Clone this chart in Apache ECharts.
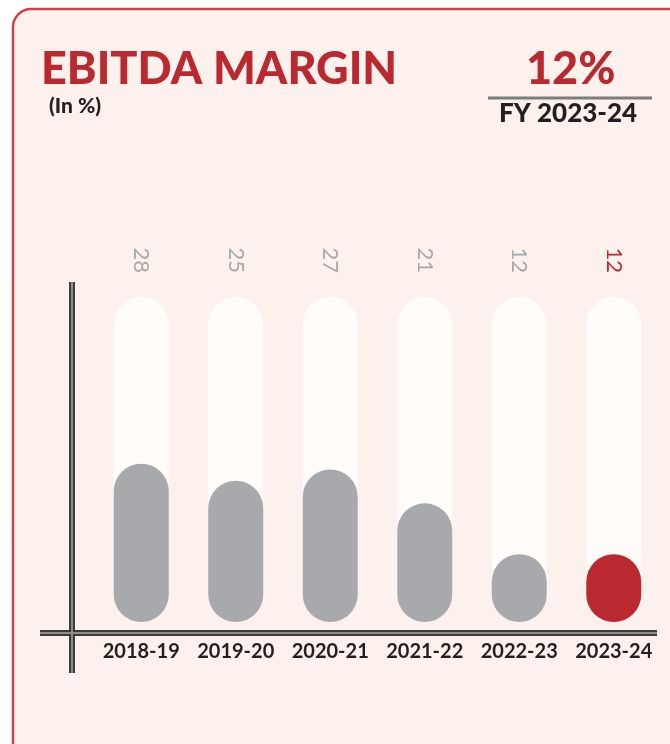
<!DOCTYPE html>
<html>
<head>
<meta charset="utf-8">
<script src="https://cdn.jsdelivr.net/npm/echarts@6/dist/echarts.min.js"></script>
<style>
html,body{margin:0;padding:0;background:#fff;}
#chart{width:670px;height:744px;}
</style>
</head>
<body>
<div id="chart"></div>
<script>
var categories = ['2018-19', '2019-20', '2020-21', '2021-22', '2022-23', '2023-24'];
var margins = [28, 25, 27, 21, 12, 12];
var highlightIndex = 5;
var titleText = 'EBITDA MARGIN';
var unitText = '(In %)';
var kpiValue = '12%';
var kpiLabel = 'FY 2023-24';

var RED = '#b9292f';
var GRAY = '#a7a9ac';
var DARK = '#231f20';

var chart = echarts.init(document.getElementById('chart'), null, {renderer: 'canvas'});

var barData = margins.map(function (v, i) {
  return {value: v, itemStyle: {color: i === highlightIndex ? RED : GRAY}};
});
var topLabels = margins.map(function (v, i) {
  return {value: String(v), textStyle: {color: i === highlightIndex ? RED : '#a6a8ab'}};
});

var option = {
  backgroundColor: '#ffffff',
  animation: false,
  grid: {left: 94, right: 9, top: 297, bottom: 122, containLabel: false},
  xAxis: [{
    type: 'category',
    data: categories,
    position: 'bottom',
    axisLine: {show: false},
    axisTick: {show: false},
    axisLabel: {
      interval: 0,
      hideOverlap: false,
      margin: 20,
      fontFamily: 'Lato',
      fontWeight: 'bold',
      fontSize: 20,
      color: DARK
    }
  }, {
    type: 'category',
    data: topLabels,
    position: 'top',
    axisLine: {show: false},
    axisTick: {show: false},
    axisLabel: {
      interval: 0,
      rotate: 90,
      margin: 24,
      fontFamily: 'Lato',
      fontWeight: 'normal',
      fontSize: 22
    }
  }],
  yAxis: {
    type: 'value',
    min: 0,
    max: 57.5,
    show: false,
    splitLine: {show: false}
  },
  series: [{
    type: 'bar',
    data: barData,
    barWidth: 55,
    showBackground: true,
    backgroundStyle: {color: '#fffcfa', borderRadius: 27.5},
    itemStyle: {borderRadius: 27.5}
  }],
  graphic: [
    {type: 'rect', z: -10, shape: {x: 13, y: 9, width: 700, height: 780, r: 18},
      style: {fill: '#fcf1ec', stroke: '#cf4148', lineWidth: 2.5}},
    {type: 'text', left: 41, top: 47, style: {text: titleText, font: '900 45px Lato', fill: RED}},
    {type: 'text', left: 49, top: 96, style: {text: unitText, font: '900 21px Lato', fill: DARK}},
    {type: 'text', left: 526, top: 47, style: {text: kpiValue, font: '900 45px Lato', fill: RED}},
    {type: 'rect', shape: {x: 488, y: 96.5, width: 164, height: 3}, style: {fill: '#7d7d7d'}},
    {type: 'text', left: 499, top: 101, style: {text: kpiLabel, font: '900 26px Lato', fill: DARK}},
    // vertical axis line
    {type: 'rect', z: 20, shape: {x: 69, y: 282, width: 6, height: 391}, style: {fill: '#3c3c3c'}},
    {type: 'rect', z: 21, shape: {x: 71, y: 282, width: 2, height: 391}, style: {fill: '#8c8c8c'}},
    // horizontal axis line
    {type: 'rect', z: 20, shape: {x: 40, y: 630, width: 617, height: 6}, style: {fill: '#3c3c3c'}},
    {type: 'rect', z: 21, shape: {x: 40, y: 632, width: 617, height: 2}, style: {fill: '#8c8c8c'}}
  ]
};
chart.setOption(option);
</script>
</body>
</html>
